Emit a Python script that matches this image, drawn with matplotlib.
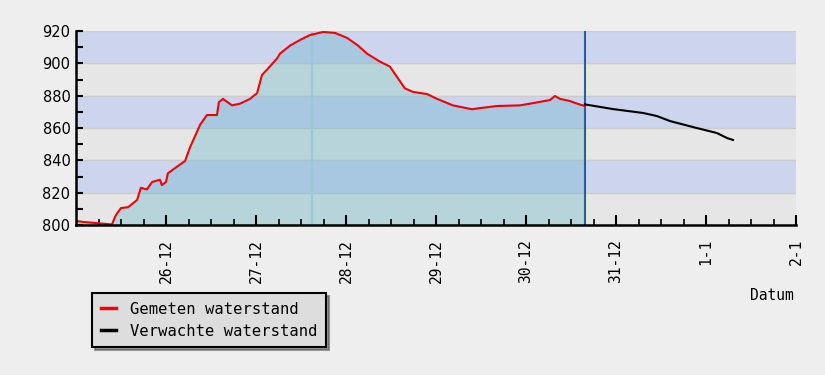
import matplotlib
matplotlib.use("Agg")
import matplotlib.pyplot as plt

# uren vanaf 25-12 00:00
gemeten_uur = [0, 1.9, 8.3, 9.6, 10.4, 10.9, 12.0, 13.9, 16.3, 17.3, 18.9, 20.3, 22.4, 22.9,
               24.0, 24.5, 26.9, 29.1, 30.4, 33.1, 34.9, 37.6, 38.1, 39.2, 41.6, 43.7, 46.4,
               48.3, 49.6, 50.9, 53.6, 54.4, 57.1, 59.7, 62.4, 65.9, 69.1, 72.3, 75.2, 77.6,
               81.1, 83.7, 85.6, 87.7, 89.9, 93.6, 96.3, 100.5, 105.6, 107.7, 112.3, 118.4,
               121.9, 126.4, 127.7, 129.1, 131.7, 133.1, 134.4, 135.7]
gemeten_stand = [802.5, 801.9, 800.6, 800.3, 805, 807, 810.5, 811, 815.5, 823, 822, 826.6, 828,
                 824.7, 826.6, 832, 836, 839.6, 848, 862, 868, 868, 876, 878, 874, 875, 878,
                 881.6, 892.8, 896, 903, 906, 911, 914.4, 917.5, 919.4, 918.8, 915.7, 911, 906,
                 901, 898, 891.6, 884.5, 882.3, 881, 878, 874, 871.6, 872.3, 873.6, 874, 875.4,
                 877.3, 879.8, 878, 876.7, 875.5, 874.5, 873.6]

verwacht_uur = [135.7, 143.2, 151.2, 154.9, 158.4, 164.5, 170.9, 173.6, 175.2]
verwacht_stand = [874.6, 871.7, 869.3, 867.4, 864.3, 860.6, 856.9, 853.8, 852.6]

nu_uur = 135.7
vorige_uur = 63.0

dag_labels = ["26-12", "27-12", "28-12", "29-12", "30-12", "31-12", "1-1", "2-1"]

mono = "DejaVu Sans Mono"

fig = plt.figure(figsize=(8.25, 3.75), dpi=100)
fig.patch.set_facecolor("#eeeeee")
ax = fig.add_axes([76 / 825, 150 / 375, 720 / 825, 194 / 375])
ax.set_xlim(0, 192)
ax.set_ylim(800, 920)

# banden
for i, y0 in enumerate(range(800, 920, 20)):
    kleur = "#e6e6e6" if i % 2 == 0 else "#ccd4ee"
    ax.axhspan(y0, y0 + 20, color=kleur, zorder=0, lw=0)
    ax.axhline(y0 + 20, color="#cccccc", lw=1, zorder=0.5)

ax.fill_between(gemeten_uur, 800, gemeten_stand, color="#64b4c8", alpha=0.35, lw=0, zorder=1)
ax.axvline(vorige_uur, ymax=0.99, color="#9cc8d8", lw=1.5, zorder=1.2)
ax.axvline(nu_uur, color="#2a5f9a", lw=1.5, zorder=3)

ax.plot(gemeten_uur, gemeten_stand, color="#ee0000", lw=1.5, zorder=4,
        label="Gemeten waterstand")
ax.plot(verwacht_uur, verwacht_stand, color="black", lw=1.5, zorder=4,
        label="Verwachte waterstand")

for s in ["top", "right"]:
    ax.spines[s].set_visible(False)
for s in ["left", "bottom"]:
    ax.spines[s].set_linewidth(1.8)
    ax.spines[s].set_zorder(5)

ax.set_yticks(range(800, 921, 20))
ax.set_yticks(range(810, 920, 20), minor=True)
ax.tick_params(axis="y", which="both", direction="in", length=5, width=1.5,
               labelsize=10.5, pad=4)
ax.set_xticks(range(24, 193, 24))
ax.set_xticklabels(dag_labels, rotation=90, family=mono, fontsize=10.5)
ax.set_xticks(range(6, 192, 6), minor=True)
ax.tick_params(axis="x", which="major", direction="in", length=7, width=1.5, pad=10)
ax.tick_params(axis="x", which="minor", direction="in", length=4, width=1.2)

fig.text(794 / 825, 1 - 295 / 375, "Datum", family=mono, fontsize=10.5,
         ha="right", va="center")

leg = fig.legend(loc="upper left", bbox_to_anchor=(92 / 825, 1 - 293 / 375),
                 borderaxespad=0, prop={"family": mono, "size": 11.2},
                 fancybox=False, shadow=True, framealpha=1, edgecolor="black",
                 facecolor="#dddddd", handlelength=1.0, handletextpad=0.9,
                 labelspacing=0.45, borderpad=0.55)
leg.get_frame().set_linewidth(1.5)
for h in leg.get_lines():
    h.set_linewidth(2.5)

fig.savefig("out.png", dpi=100, facecolor=fig.get_facecolor())
